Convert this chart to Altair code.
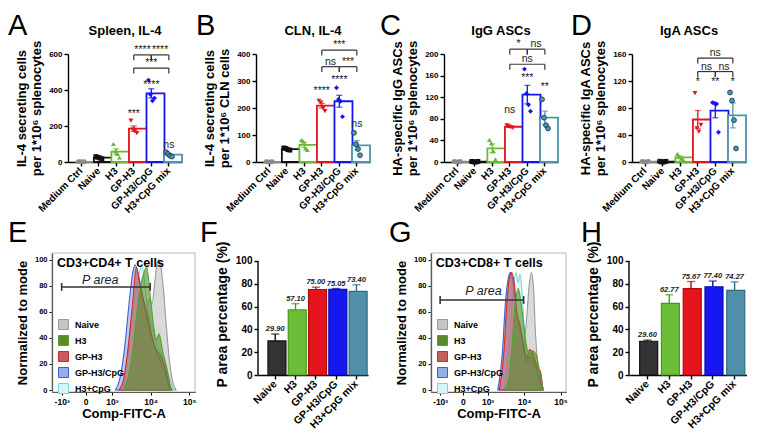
import altair as alt
import pandas as pd

FONT = "Liberation Sans"

# ---------------- categories / colours ----------------
groups6 = ["Medium Ctrl", "Naive", "H3", "GP-H3", "GP-H3/CpG", "H3+CpG mix"]
colors6 = ["#8a8a8a", "#111111", "#66b934", "#e3151c", "#1515ee", "#4d93ad"]
shapes6 = ["circle", "square", "triangle-up", "triangle-down", "diamond", "circle"]

groups5 = ["Naive", "H3", "GP-H3", "GP-H3/CpG", "H3+CpG mix"]
fill5 = ["#333333", "#6cbd38", "#e4151d", "#1717ef", "#4f8fa9"]
edge5 = ["#111111", "#4a9a22", "#b00c12", "#0c0cb0", "#2f6d82"]

flow_series = ["Naive", "H3", "GP-H3", "GP-H3/CpG", "H3+CpG"]
flow_fill = ["#c4c4c4", "#5b8a2e", "#c0605a", "#93b0e6", "#d6f5f4"]
flow_edge = ["#9a9a9a", "#48a82a", "#d42a24", "#3a5fd0", "#74d4dc"]
flow_draw_order = ["Naive", "H3+CpG", "GP-H3/CpG", "GP-H3", "H3"]

# ---------------- panel A ----------------
A_values = [[2, 1, 0, 1], [30, 26, 22, 18], [100, 60, 45, 25],
            [230, 180, 170, 160], [455, 375, 340, 355], [55, 45, 35, 30]]
A_marks = [("GP-H3", 265, "***"), ("GP-H3/CpG", 428, "****"), ("H3+CpG mix", 95, "ns")]
A_brackets = [("GP-H3", "GP-H3/CpG", 595, "****"), ("GP-H3/CpG", "H3+CpG mix", 595, "****"),
              ("GP-H3", "H3+CpG mix", 522, "***")]

# ---------------- panel B ----------------
B_values = [[1, 0, 0, 1], [52, 50, 46, 44], [82, 76, 50, 45],
            [226, 220, 200, 188], [275, 232, 225, 168], [108, 66, 48, 25]]
B_marks = [("GP-H3", 264, "****"), ("GP-H3/CpG", 305, "****"), ("H3+CpG mix", 140, "ns")]
B_brackets = [("GP-H3", "GP-H3/CpG", 353, "ns"), ("GP-H3/CpG", "H3+CpG mix", 353, "***"),
              ("GP-H3", "H3+CpG mix", 414, "***")]

# ---------------- panel C ----------------
C_values = [[1, 0, 0, 1], [1, 0, 0, 1], [41, 35, 20, 5],
            [68, 66, 64, 63], [172, 127, 106, 94], [116, 82, 68, 62]]
C_marks = [("GP-H3", 96, "ns"), ("GP-H3/CpG", 156, "***"), ("H3+CpG mix", 139, "**")]
C_brackets = [("GP-H3", "GP-H3/CpG", 209, "*"), ("GP-H3/CpG", "H3+CpG mix", 209, "ns"),
              ("GP-H3", "H3+CpG mix", 181, "ns")]

# ---------------- panel D ----------------
D_values = [[1, 0, 0, 1], [1, 0, 0, 1], [12, 8, 5, 3],
            [102, 50, 45, 55], [88, 87, 86, 44], [103, 91, 62, 20]]
D_marks = [("GP-H3", 119, "*"), ("GP-H3/CpG", 119, "**"), ("H3+CpG mix", 119, "*")]
D_brackets = [("GP-H3", "GP-H3/CpG", 134, "ns"), ("GP-H3/CpG", "H3+CpG mix", 134, "ns"),
              ("GP-H3", "H3+CpG mix", 154, "ns")]

# ---------------- panels F and H ----------------
F_means = [29.90, 57.10, 75.00, 75.05, 73.40]
F_errs = [6.0, 5.5, 2.0, 0.8, 5.8]
H_means = [29.60, 62.77, 75.67, 77.40, 74.27]
H_errs = [1.0, 7.6, 6.3, 5.0, 7.4]

# ---------------- flow histograms (display units: 10^3 = 1, 10^4 = 2, 10^5 = 3) ----------------
flow_tick_pos = [-0.3, 0.32, 1, 2, 3]
flow_tick_lab = ["-10³", "0", "10³", "10⁴", "10⁵"]

E_NAIVE_X = [1.45, 1.55, 1.68, 1.80, 1.90, 1.97, 2.04, 2.10, 2.16, 2.22, 2.28, 2.34, 2.40, 2.48, 2.56, 2.66]
E_NAIVE_Y = [0, 6, 27, 45, 62, 70, 66, 80, 95, 100, 92, 75, 52, 25, 8, 0]
E_H3_X = [1.30, 1.42, 1.54, 1.68, 1.81, 1.90, 1.99, 2.08, 2.15, 2.22, 2.31, 2.44, 2.53]
E_H3_Y = [0, 10, 30, 68, 88, 94, 73, 49, 39, 43, 30, 14, 0]
E_GPH3_X = [1.18, 1.30, 1.41, 1.54, 1.63, 1.72, 1.81, 1.90, 2.00, 2.13, 2.26, 2.39, 2.47, 2.55]
E_GPH3_Y = [0, 8, 30, 68, 94, 82, 70, 60, 46, 32, 26, 16, 6, 0]
E_CPG_X = [1.09, 1.20, 1.32, 1.45, 1.54, 1.60, 1.70, 1.80, 1.90, 2.00, 2.13, 2.26, 2.40, 2.50]
E_CPG_Y = [0, 8, 30, 68, 90, 96, 86, 70, 56, 44, 31, 22, 10, 0]
E_MIX_X = [1.27, 1.38, 1.50, 1.60, 1.68, 1.77, 1.84, 1.90, 2.00, 2.08, 2.22, 2.35, 2.49, 2.58]
E_MIX_Y = [0, 15, 49, 72, 86, 95, 85, 68, 52, 43, 30, 23, 9, 0]

G_NAIVE_X = [1.62, 1.72, 1.80, 1.87, 1.94, 1.99, 2.04, 2.08, 2.14, 2.20, 2.26, 2.31, 2.37, 2.45, 2.53]
G_NAIVE_Y = [0, 10, 18, 22, 28, 35, 45, 58, 80, 90, 78, 45, 22, 9, 0]
G_H3_X = [1.49, 1.58, 1.66, 1.74, 1.84, 1.91, 1.99, 2.08, 2.16, 2.22, 2.33, 2.41, 2.49, 2.53]
G_H3_Y = [0, 10, 30, 60, 78, 68, 50, 32, 28, 30, 27, 17, 5, 0]
G_GPH3_X = [1.32, 1.45, 1.53, 1.60, 1.66, 1.74, 1.80, 1.87, 1.99, 2.06, 2.16, 2.28, 2.37, 2.45, 2.52]
G_GPH3_Y = [0, 30, 67, 86, 90, 80, 60, 52, 35, 24, 31, 25, 17, 14, 0]
G_CPG_X = [1.28, 1.41, 1.49, 1.58, 1.63, 1.70, 1.78, 1.87, 1.99, 2.08, 2.16, 2.28, 2.40, 2.50]
G_CPG_Y = [0, 30, 67, 87, 90, 82, 62, 50, 32, 22, 26, 20, 10, 0]
G_MIX_X = [1.45, 1.55, 1.62, 1.70, 1.78, 1.84, 1.89, 1.95, 1.99, 2.08, 2.20, 2.37, 2.49]
G_MIX_Y = [0, 20, 43, 74, 90, 82, 89, 72, 55, 25, 20, 13, 0]

E_PAREA = (-0.3, 1.99, 79)     # from, to, level
G_PAREA = (-0.3, 1.99, 69)
E_PLABEL = (0.7, 84)
G_PLABEL = (0.89, 76)
E_CELLS = "CD3+CD4+ T cells"
G_CELLS = "CD3+CD8+ T cells"

# ---------------- layout constants ----------------
TOP_W, TOP_H = 114, 108
PI6, PO6 = 0.45, 0.475
STEP6 = TOP_W / (6 - PI6 + 2 * PO6)
E_SHIFT = 16          # panel E's plot starts this far left of its layout origin
XDOM_FLOW = [-0.55, 3.15]
YDOM_FLOW = [-1.5, 105]

AX = dict(tickWidth=1.4, domainWidth=1.4, tickSize=4, grid=False)
IND = dict(fill="independent", stroke="independent", color="independent", shape="independent")


def letter_layer(letter, dx, dy):
    return alt.Chart(pd.DataFrame({"t": [letter]})).mark_text(
        align="left", baseline="alphabetic", fontSize=29, fontWeight="normal", font=FONT, color="black"
    ).encode(text="t:N", x=alt.value(dx), y=alt.value(dy))


def top_panel(letter, ldx, heading, ytitle, values, ymax, ystep, marks, brackets):
    pts = pd.DataFrame([{"group": g, "value": v, "rep": i}
                        for g, vs in zip(groups6, values) for i, v in enumerate(vs)])
    xsc = alt.Scale(domain=groups6, paddingInner=PI6, paddingOuter=PO6)
    ysc = alt.Scale(domain=[0, ymax], nice=False)
    csc = alt.Scale(domain=groups6, range=colors6)
    xax = alt.Axis(title=None, labelAngle=-45, labelAlign="right", labelBaseline="middle",
                   labelFontSize=10, labelFontWeight="bold", labelPadding=3, **AX)
    yax = alt.Axis(title=ytitle, values=list(range(0, ymax + 1, ystep)), labelFontSize=8,
                   labelFontWeight="bold", titleFontSize=13, titleFontWeight="bold",
                   titlePadding=5, titleLineHeight=15, labelPadding=2, **AX)

    def Xf(field, **kw):
        return alt.X(field, scale=xsc, axis=xax, title=None, **kw)

    def Yf(field):
        return alt.Y(field, scale=ysc, axis=yax, title=ytitle)

    base = alt.Chart(pts)
    bars = base.mark_bar(fill="white", strokeWidth=1.8).encode(
        x=Xf("group:N"), y=Yf("mean(value):Q"),
        stroke=alt.Stroke("group:N", scale=csc, legend=None))
    err = base.mark_errorbar(extent="stderr", ticks=True, size=6, thickness=1.3).encode(
        x=Xf("group:N"), y=Yf("value:Q"),
        color=alt.Color("group:N", scale=csc, legend=None))
    dots = base.mark_point(filled=True, size=24, opacity=1, strokeWidth=0.8).encode(
        x=Xf("group:N"),
        xOffset=alt.XOffset("rep:O", scale=alt.Scale(type="point", range=[2, 8], padding=0)),
        y=Yf("value:Q"),
        fill=alt.Fill("group:N", scale=csc, legend=None),
        shape=alt.Shape("group:N", scale=alt.Scale(domain=groups6, range=shapes6), legend=None),
        stroke=alt.condition(alt.datum.group == "H3+CpG mix", alt.value("#123646"), alt.value("transparent")))

    mk = pd.DataFrame(marks, columns=["group", "y", "label"])
    mtext = alt.Chart(mk).mark_text(fontSize=10.5, baseline="middle", font=FONT, color="#222").encode(
        x=Xf("group:N", bandPosition=0.5), y=Yf("y:Q"), text="label:N")

    br = pd.DataFrame(brackets, columns=["g1", "g2", "level", "label"])
    br["low"] = br["level"] - 0.05 * ymax
    i1 = [groups6.index(g) for g in br["g1"]]
    i2 = [groups6.index(g) for g in br["g2"]]
    br["span"] = [b - a for a, b in zip(i1, i2)]
    br["mid"] = [groups6[(a + b) // 2] for a, b in zip(i1, i2)]
    ends = pd.concat([br[["g1", "level", "low"]].rename(columns={"g1": "g"}),
                      br[["g2", "level", "low"]].rename(columns={"g2": "g"})])
    hline = alt.Chart(br).mark_rule(strokeWidth=1.2, color="#333").encode(
        x=Xf("g1:N", bandPosition=0.5), x2=alt.X2("g2", bandPosition=0.5), y=Yf("level:Q"))
    vline = alt.Chart(ends).mark_rule(strokeWidth=1.2, color="#333").encode(
        x=Xf("g:N", bandPosition=0.5), y=Yf("level:Q"), y2="low:Q")
    bt1 = alt.Chart(br).transform_filter(alt.datum.span == 1).mark_text(
        fontSize=10.5, baseline="alphabetic", dy=-2, dx=STEP6 / 2, font=FONT, color="#222").encode(
        x=Xf("mid:N", bandPosition=0.5), y=Yf("level:Q"), text="label:N")
    bt2 = alt.Chart(br).transform_filter(alt.datum.span == 2).mark_text(
        fontSize=10.5, baseline="alphabetic", dy=-2, font=FONT, color="#222").encode(
        x=Xf("mid:N", bandPosition=0.5), y=Yf("level:Q"), text="label:N")
    head = alt.Chart(pd.DataFrame({"t": [heading]})).mark_text(
        fontSize=13, fontWeight="bold", font=FONT, baseline="alphabetic", color="black").encode(
        text="t:N", x=alt.value(TOP_W / 2), y=alt.value(-19))
    return alt.layer(bars, err, dots, mtext, hline, vline, bt1, bt2, head,
                     letter_layer(letter, ldx, -19)).properties(width=TOP_W, height=TOP_H)


def flow_panel(letter, ldx, curves, cells, parea, plabel, W, H, shift=0):
    rows = []
    for name in flow_draw_order:          # data order = drawing order
        xs, ys = curves[name]
        for xv, yv in zip(xs, ys):
            rows.append({"series": name, "d": xv, "v": yv})
    df = pd.DataFrame(rows)
    vw = W - shift
    xsc = alt.Scale(domain=XDOM_FLOW, nice=False, zero=False, range=[-shift, vw])
    ysc = alt.Scale(domain=YDOM_FLOW, nice=False, zero=False)
    lab_js = "[" + ",".join("'%s'" % s for s in flow_tick_lab) + "]"
    pos_js = "[" + ",".join(str(p) for p in flow_tick_pos) + "]"
    xax = alt.Axis(title="Comp-FITC-A", values=flow_tick_pos,
                   labelExpr=f"{lab_js}[indexof({pos_js}, datum.value)]",
                   labelFontSize=8.5, labelFontWeight="bold", titleFontSize=13, titleFontWeight="bold",
                   titlePadding=2, labelPadding=2, tickWidth=1, domainWidth=1.2, tickSize=3, grid=False,
                   labelOverlap=False, labelFlush=False)
    yax = alt.Axis(title="Normalized to mode", values=[0, 20, 40, 60, 80, 100], labelFontSize=7.5,
                   labelFontWeight="bold", titleFontSize=13, titleFontWeight="bold", titlePadding=5,
                   labelPadding=2, tickWidth=1, domainWidth=1.2, tickSize=3, grid=False, offset=shift)

    def Xf(field):
        return alt.X(field, scale=xsc, axis=xax, title="Comp-FITC-A")

    def Yf(field, **kw):
        return alt.Y(field, scale=ysc, axis=yax, title="Normalized to mode", **kw)

    leg = alt.Legend(title=None, orient="none", legendX=6 - shift, legendY=66, symbolType="square",
                     symbolSize=100, symbolStrokeWidth=1, labelFontSize=9, labelFontWeight="bold",
                     labelFont=FONT, rowPadding=1, labelOffset=6, padding=0, symbolOpacity=1)
    fsc = alt.Scale(domain=flow_series, range=flow_fill)
    ssc = alt.Scale(domain=flow_series, range=flow_edge)
    areas = alt.Chart(df).mark_area(interpolate="monotone", fillOpacity=0.62, strokeWidth=1.1).encode(
        x=Xf("d:Q"),
        y=Yf("v:Q", stack=None),
        y2=alt.datum(0),
        fill=alt.Fill("series:N", scale=fsc, legend=leg),
        stroke=alt.Stroke("series:N", scale=ssc, legend=leg))
    frame = alt.Chart(pd.DataFrame({"x0": [XDOM_FLOW[0]], "x1": [XDOM_FLOW[1]],
                                    "y0": [YDOM_FLOW[0]], "y1": [YDOM_FLOW[1]]})).mark_rect(
        fill=None, stroke="#b5b5b5", strokeWidth=1).encode(
        x=Xf("x0:Q"), x2="x1:Q", y=Yf("y0:Q"), y2="y1:Q")
    pa = pd.DataFrame({"x0": [parea[0]], "x1": [parea[1]], "lv": [parea[2]]})
    caps = pd.DataFrame({"x": [parea[0], parea[1]], "lo": [parea[2] - 3] * 2, "hi": [parea[2] + 3] * 2})
    pline = alt.Chart(pa).mark_rule(strokeWidth=1.6, color="#333").encode(
        x=Xf("x0:Q"), x2="x1:Q", y=Yf("lv:Q"))
    pcaps = alt.Chart(caps).mark_rule(strokeWidth=1.6, color="#333").encode(
        x=Xf("x:Q"), y=Yf("lo:Q"), y2="hi:Q")
    ptext = alt.Chart(pd.DataFrame({"x": [plabel[0]], "y": [plabel[1]], "t": ["P area"]})).mark_text(
        fontSize=12.5, fontStyle="italic", font=FONT, baseline="middle", color="#222").encode(
        x=Xf("x:Q"), y=Yf("y:Q"), text="t:N")
    ctext = alt.Chart(pd.DataFrame({"x": [-0.42], "y": [97], "t": [cells]})).mark_text(
        fontSize=12.5, fontWeight="bold", font=FONT, align="left", baseline="middle", color="black").encode(
        x=Xf("x:Q"), y=Yf("y:Q"), text="t:N")
    return alt.layer(frame, areas, pline, pcaps, ptext, ctext,
                     letter_layer(letter, ldx - shift, -11)).properties(width=vw, height=H)


def pct_panel(letter, ldx, means, errs, W, H):
    df = pd.DataFrame({"group": groups5, "mean": means, "err": errs})
    xsc = alt.Scale(domain=groups5, paddingInner=0.28, paddingOuter=0.35, align=0.7)
    ysc = alt.Scale(domain=[0, 107], nice=False)
    fsc = alt.Scale(domain=groups5, range=fill5)
    esc = alt.Scale(domain=groups5, range=edge5)
    xax = alt.Axis(title=None, labelAngle=-45, labelAlign="right", labelBaseline="middle",
                   labelFontSize=10.5, labelFontWeight="bold", labelPadding=3, **AX)
    ytitle = "P area percentage (%)"
    yax = alt.Axis(title=ytitle, values=[0, 20, 40, 60, 80, 100], domain=False,
                   labelFontSize=10, labelFontWeight="bold", titleFontSize=14, titleFontWeight="bold",
                   titlePadding=6, labelPadding=2, tickWidth=1.4, tickSize=4, grid=False)

    def Xf(field, **kw):
        return alt.X(field, scale=xsc, axis=xax, title=None, **kw)

    def Yf(field):
        return alt.Y(field, scale=ysc, axis=yax, title=ytitle)

    base = alt.Chart(df).transform_calculate(top="datum.mean + datum.err")
    bars = base.mark_bar(strokeWidth=1.2).encode(
        x=Xf("group:N"), y=Yf("mean:Q"),
        fill=alt.Fill("group:N", scale=fsc, legend=None),
        stroke=alt.Stroke("group:N", scale=esc, legend=None))
    whisk = base.mark_rule(strokeWidth=1.4).encode(
        x=Xf("group:N", bandPosition=0.5), y=Yf("mean:Q"), y2="top:Q",
        stroke=alt.Stroke("group:N", scale=esc, legend=None))
    cap = base.mark_tick(thickness=1.4, size=8).encode(
        x=Xf("group:N", bandPosition=0.5), y=Yf("top:Q"),
        color=alt.Color("group:N", scale=esc, legend=None))
    lab = base.mark_text(fontSize=7.5, fontStyle="italic", fontWeight="bold", font=FONT,
                         baseline="alphabetic", dy=-3, color="#222").encode(
        x=Xf("group:N", bandPosition=0.5), y=Yf("top:Q"), text=alt.Text("mean:Q", format=".2f"))
    axline = alt.Chart(pd.DataFrame({"a": [0]})).mark_rule(strokeWidth=1.4, color="black").encode(
        x=alt.value(0), y=alt.Y(datum=0, scale=ysc, axis=yax, title=ytitle), y2=alt.datum(100))
    return alt.layer(bars, whisk, cap, lab, axline, letter_layer(letter, ldx, -11)).properties(width=W, height=H)


A = top_panel("A", -60, "Spleen, IL-4", ["IL-4 secreting cells", "per 1*10⁶ splenocytes"],
              A_values, 600, 200, A_marks, A_brackets)
B = top_panel("B", -60, "CLN,  IL-4", ["IL-4 secreting cells", "per 1*10⁶ CLN cells"],
              B_values, 400, 100, B_marks, B_brackets)
C = top_panel("C", -64, "IgG ASCs", ["HA-specific IgG ASCs", "per 1*10⁶ splenocytes"],
              C_values, 200, 40, C_marks, C_brackets)
D = top_panel("D", -61, "IgA ASCs", ["HA-specific IgA ASCs", "per 1*10⁶ splenocytes"],
              D_values, 160, 40, D_marks, D_brackets)

E = flow_panel("E", -44, {"Naive": (E_NAIVE_X, E_NAIVE_Y), "H3": (E_H3_X, E_H3_Y),
                          "GP-H3": (E_GPH3_X, E_GPH3_Y), "GP-H3/CpG": (E_CPG_X, E_CPG_Y),
                          "H3+CpG": (E_MIX_X, E_MIX_Y)},
               E_CELLS, E_PAREA, E_PLABEL, 143, 139, shift=E_SHIFT)
F = pct_panel("F", -58, F_means, F_errs, 110, 122)
G = flow_panel("G", -42, {"Naive": (G_NAIVE_X, G_NAIVE_Y), "H3": (G_H3_X, G_H3_Y),
                          "GP-H3": (G_GPH3_X, G_GPH3_Y), "GP-H3/CpG": (G_CPG_X, G_CPG_Y),
                          "H3+CpG": (G_MIX_X, G_MIX_Y)},
               G_CELLS, G_PAREA, G_PLABEL, 135, 139)
H = pct_panel("H", -48, H_means, H_errs, 118, 122)

row1 = alt.hconcat(A, B, C, D, spacing=74, bounds="flush").resolve_scale(**IND)
row2 = alt.hconcat(E, F, G, H, spacing=63, bounds="flush").resolve_scale(**IND)

chart = alt.concat(row1, row2, columns=1, spacing=4, align="none").resolve_scale(**IND).properties(
    padding={"left": 0, "right": 0, "top": 4, "bottom": 0}
).configure_view(stroke=None).configure_axis(
    labelFont=FONT, titleFont=FONT, domainColor="black", tickColor="black",
    labelColor="black", titleColor="black"
).configure_text(font=FONT)

chart.save("out.html", embed_options={"renderer": "svg", "actions": False})
